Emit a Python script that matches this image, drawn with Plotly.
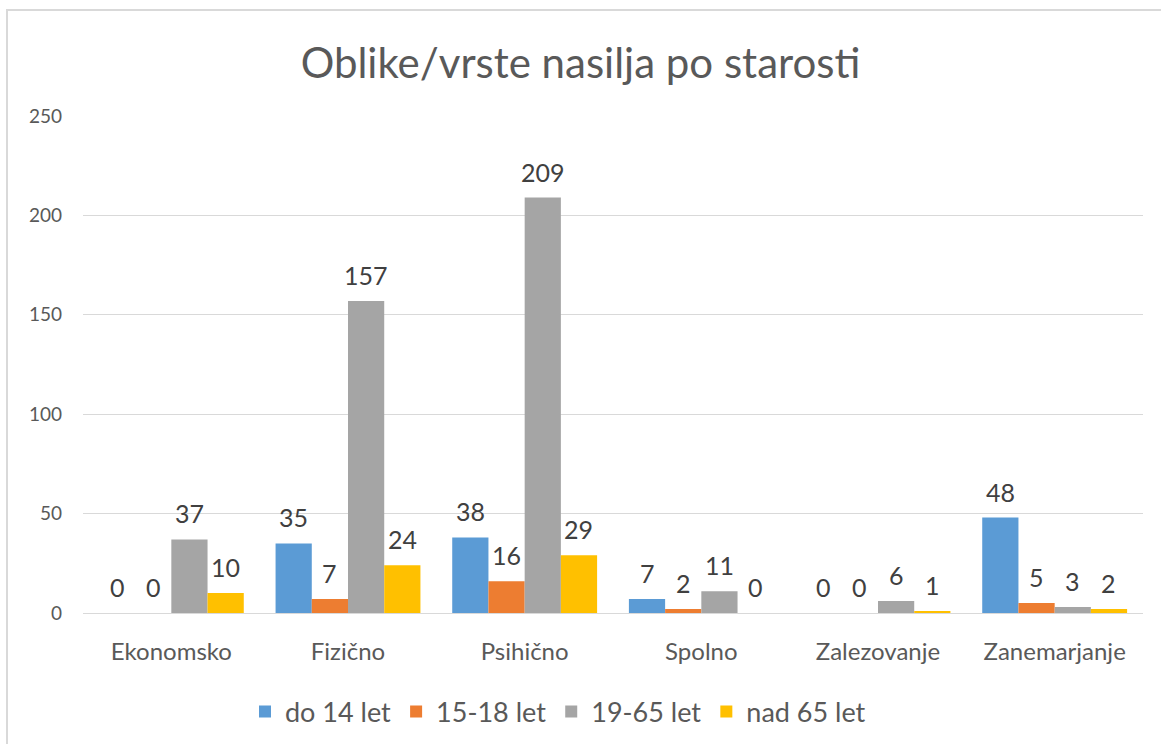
import plotly.graph_objects as go

categories = ["Ekonomsko", "Fizično", "Psihično", "Spolno", "Zalezovanje", "Zanemarjanje"]
series_names = ["do 14 let", "15-18 let", "19-65 let", "nad 65 let"]
do14 = [0, 35, 38, 7, 0, 48]
s15_18 = [0, 7, 16, 2, 0, 5]
s19_65 = [37, 157, 209, 11, 6, 3]
nad65 = [10, 24, 29, 0, 1, 2]
colors = ["#5B9BD5", "#ED7D31", "#A5A5A5", "#FFC000"]
y_ticks = [0, 50, 100, 150, 200, 250]

FONT = "Lato, Open Sans, sans-serif"
BARGAP = 0.18

all_series = [do14, s15_18, s19_65, nad65]
fig = go.Figure()
for name, vals, col in zip(series_names, all_series, colors):
    fig.add_trace(go.Bar(
        x=categories, y=vals, name=name,
        marker=dict(color=col, line=dict(width=0)),
    ))

# data labels placed through the axes' data coordinates
n = len(all_series)
bw = (1 - BARGAP) / n
annotations = []
for si, vals in enumerate(all_series):
    off = (si - (n - 1) / 2) * bw
    for ci, v in enumerate(vals):
        annotations.append(dict(
            x=ci + off, y=v, xref="x", yref="y", text=str(v), showarrow=False,
            yanchor="bottom", yshift=9,
            font=dict(size=25, color="#404040", family=FONT),
        ))

B = 131
PH = 744 - 116 - B

fig.update_layout(
    width=1161, height=744,
    paper_bgcolor="white", plot_bgcolor="white",
    barmode="group", bargap=BARGAP, bargroupgap=0,
    margin=dict(l=83, r=18, t=116, b=B, autoexpand=False),
    title=dict(text="Oblike/vrste nasilja po starosti", x=0.5, xanchor="center",
               y=1 - 63 / 744, yanchor="middle",
               font=dict(size=42, color="#595959", family=FONT)),
    font=dict(family=FONT, color="#595959"),
    xaxis=dict(showgrid=False, showline=False, ticks="", automargin=False,
               tickfont=dict(size=24, color="#595959")),
    yaxis=dict(range=[0, 250], tickvals=y_ticks, showgrid=True, gridcolor="#D9D9D9",
               gridwidth=1, zeroline=True, zerolinecolor="#D9D9D9", zerolinewidth=1,
               showline=False, ticks="", ticklen=0, automargin=False,
               tickfont=dict(size=19, color="#595959")),
    legend=dict(orientation="h", x=(558 - 83) / 1060, xanchor="center",
                y=-(99) / PH, yanchor="middle",
                font=dict(size=27, color="#595959"),
                traceorder="normal"),
    annotations=annotations,
    shapes=[dict(type="rect", xref="paper", yref="paper",
                 x0=-76 / 1060, x1=1.1, y0=-0.4, y1=1 + 106 / PH,
                 line=dict(color="#D9D9D9", width=2), fillcolor="rgba(0,0,0,0)", layer="below")],
)
fig.update_yaxes(ticklabelstandoff=20)
fig.update_xaxes(ticklabelstandoff=22)

fig.write_html("out.html", config={"displayModeBar": False},
               post_script="document.body.style.margin='0';document.body.style.overflow='hidden';")
